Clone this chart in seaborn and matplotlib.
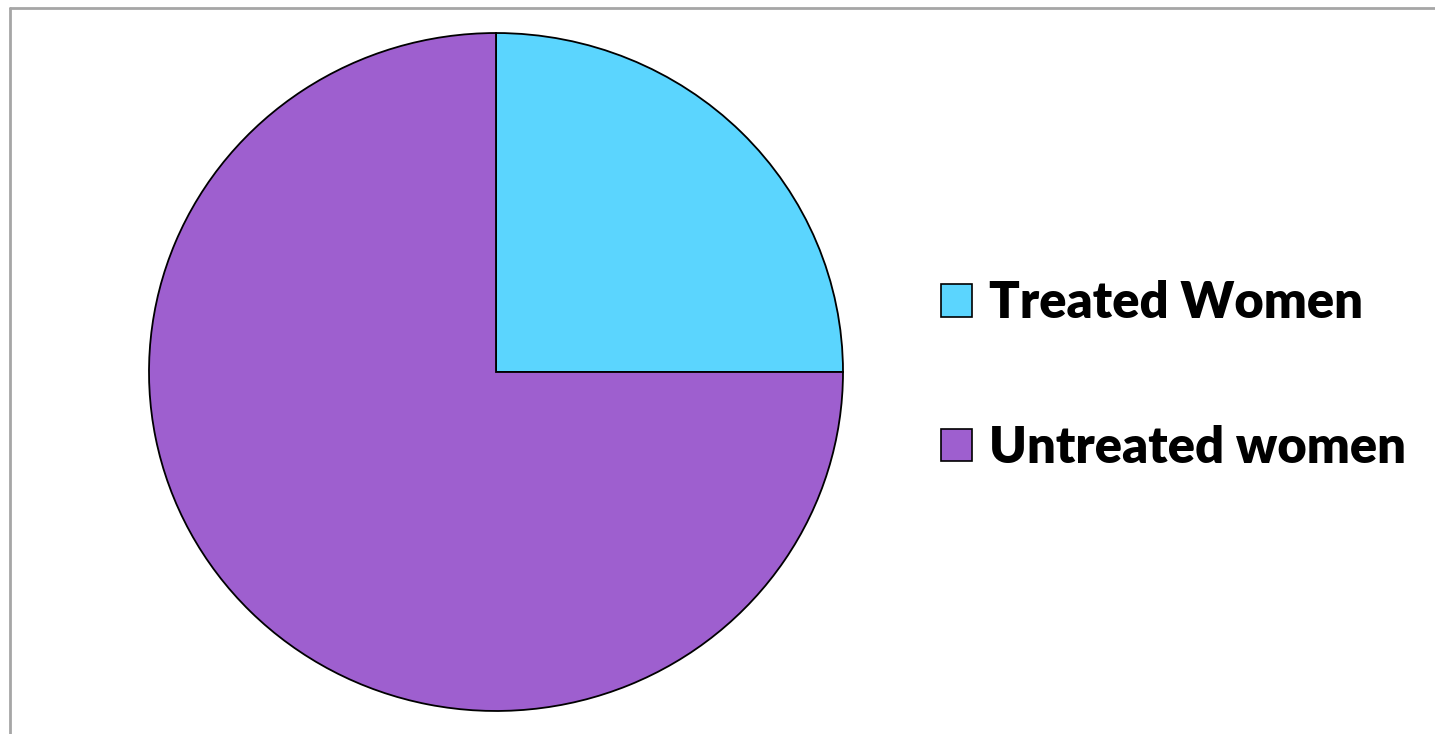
import matplotlib
matplotlib.use("Agg")
import matplotlib.pyplot as plt
import seaborn as sns
from matplotlib.lines import Line2D

categories = ["Treated Women", "Untreated women"]
values = [25, 75]
colors = ["#5BD5FE", "#9E5FCF"]

sns.set_theme(style="white")
plt.rcParams['font.family'] = ['Lato', 'DejaVu Sans']
plt.rcParams['text.color'] = 'black'

W, H = 1435, 734
fig = plt.figure(figsize=(W / 100, H / 100), dpi=100)
fig.patch.set_facecolor("white")

cx, cy, rx, ry = 496, 372, 347, 340
ax = fig.add_axes([(cx - rx) / W, (H - cy - ry) / H, 2 * rx / W, 2 * ry / H])
wedges, _ = ax.pie(values, colors=colors, startangle=90, counterclock=False,
                   wedgeprops=dict(edgecolor="black", linewidth=1.3),
                   radius=1.0, frame=False)
ax.set_aspect("auto")
ax.set_xlim(-1.0, 1.0)
ax.set_ylim(-1.003, 1.003)
ax.axis("off")

leg = fig.legend(wedges, categories, loc="upper left",
                 bbox_to_anchor=(941 / W, 1 - 280 / H),
                 frameon=False, prop=dict(size=36.5, weight="heavy"),
                 handlelength=0.62, handleheight=0.62, handletextpad=0.33,
                 labelspacing=1.95, borderaxespad=0, borderpad=0)
for h in leg.legend_handles:
    h.set_edgecolor("black")
    h.set_linewidth(1.2)
for t in leg.get_texts():
    t.set_color("black")

fig.add_artist(Line2D([9.5 / W, 9.5 / W], [0, 1 - 8 / H], color="#A6A6A6", lw=2, transform=fig.transFigure))
fig.add_artist(Line2D([9.5 / W, 1], [1 - 8 / H, 1 - 8 / H], color="#A6A6A6", lw=2, transform=fig.transFigure))

fig.savefig("out.png", dpi=100, facecolor="white")
